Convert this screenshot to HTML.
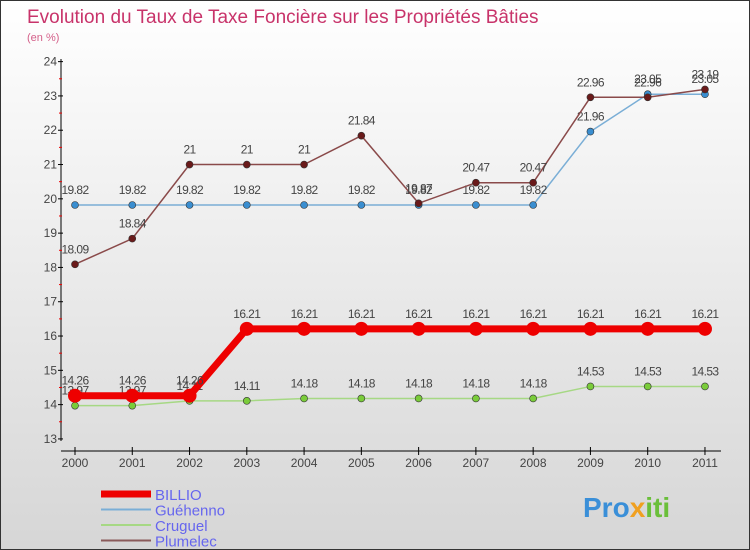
<!DOCTYPE html>
<html><head><meta charset="utf-8"><style>
body{margin:0}
#wrap{width:748px;height:548px;border:1px solid #333;background:linear-gradient(#fff,#d6d6d6);position:relative;font-family:"Liberation Sans",sans-serif;overflow:hidden}
</style></head><body>
<div id="wrap">
<svg id="svg" width="748" height="548">
<text x="26" y="22" font-size="19" fill="#c8336a">Evolution du Taux de Taxe Foncière sur les Propriétés Bâties</text>
<text x="26" y="40" font-size="11" fill="#d4608a">(en %)</text>
<g id="axes"></g><g id="series"></g><g id="legend"></g>
<text x="582" y="516" font-size="28" font-weight="bold" fill="#3a8fd8">Pro<tspan fill="#f0a020">x</tspan><tspan fill="#6abf3a">iti</tspan></text>
</svg></div>
<script>
const years=[2000,2001,2002,2003,2004,2005,2006,2007,2008,2009,2010,2011];
const yTicks=[13,14,15,16,17,18,19,20,21,22,23,24];
const billio=[14.26,14.26,14.26,16.21,16.21,16.21,16.21,16.21,16.21,16.21,16.21,16.21];
const guehenno=[19.82,19.82,19.82,19.82,19.82,19.82,19.82,19.82,19.82,21.96,23.05,23.05];
const cruguel=[13.97,13.97,14.11,14.11,14.18,14.18,14.18,14.18,14.18,14.53,14.53,14.53];
const plumelec=[18.09,18.84,21,21,21,21.84,19.87,20.47,20.47,22.96,22.96,23.19];
const NS="http://www.w3.org/2000/svg";
const xs=i=>74+i*57.27;
const ys=v=>204-(v-19.82)*34.3;
function mk(t,a,p){const e=document.createElementNS(NS,t);for(const k in a)e.setAttribute(k,a[k]);p.appendChild(e);return e;}
const ax=document.getElementById('axes');
const yl=mk('line',{x1:60,y1:58,x2:60,y2:440,stroke:'#000'},ax);


yTicks.forEach(v=>{
  mk('line',{x1:57,y1:ys(v),x2:62,y2:ys(v),stroke:'#000'},ax);
  if(v<24)mk('line',{x1:58,y1:ys(v+0.5),x2:61,y2:ys(v+0.5),stroke:'#e00'},ax);
  const t=mk('text',{x:56,y:ys(v)+4,'font-size':12,'text-anchor':'end',fill:'#444'},ax);t.textContent=v;
  
  
});
const xl=mk('line',{x1:60,y1:450,x2:720,y2:450,stroke:'#000'},ax);


years.forEach((y,i)=>{
  mk('line',{x1:xs(i),y1:446,x2:xs(i),y2:454,stroke:'#000'},ax);
  const t=mk('text',{x:xs(i),y:466,'font-size':12,'text-anchor':'middle',fill:'#444'},ax);t.textContent=y;
  
  
});
const sg=document.getElementById('series');
function series(vals,color,w,r,name,dot){
  const g=mk('g',{},sg);
  
  
  mk('polyline',{points:vals.map((v,i)=>xs(i)+','+ys(v)).join(' '),fill:'none',stroke:color,'stroke-width':w},g);
  vals.forEach((v,i)=>{
    const c=mk('circle',{cx:xs(i),cy:ys(v),r:r,fill:dot,stroke:'#333','stroke-width':r>5?0:0.6},g);
    
    
    const t=mk('text',{x:xs(i),y:ys(v)-11,'font-size':12,'text-anchor':'middle',fill:'#444','letter-spacing':'-0.6'},g);
    t.textContent=v;
    
    
  });
}
series(guehenno,'#7aaed6',1.5,3.5,'guehenno','#3a8ed0');
series(cruguel,'#a6d884',1.5,3.5,'cruguel','#7acc3a');
series(plumelec,'#8a4a4a',1.5,3.5,'plumelec','#6a1a1a');
series(billio,'#ee0000',7,7,'billio','#ee0000');
const lg=document.getElementById('legend');
[['BILLIO','#ee0000',7],['Guéhenno','#7aaed6',2],['Cruguel','#a6d884',2],['Plumelec','#8a5a5a',2]].forEach((d,i)=>{
  const y=493+i*15.5;
  const l=mk('line',{x1:100,y1:y,x2:150,y2:y,stroke:d[1],'stroke-width':d[2]},lg);
  
  
  const t=mk('text',{x:154,y:y+6,'font-size':15,fill:'#6666ee'},lg);t.textContent=d[0];
  
  
});
</script>
</body></html>
